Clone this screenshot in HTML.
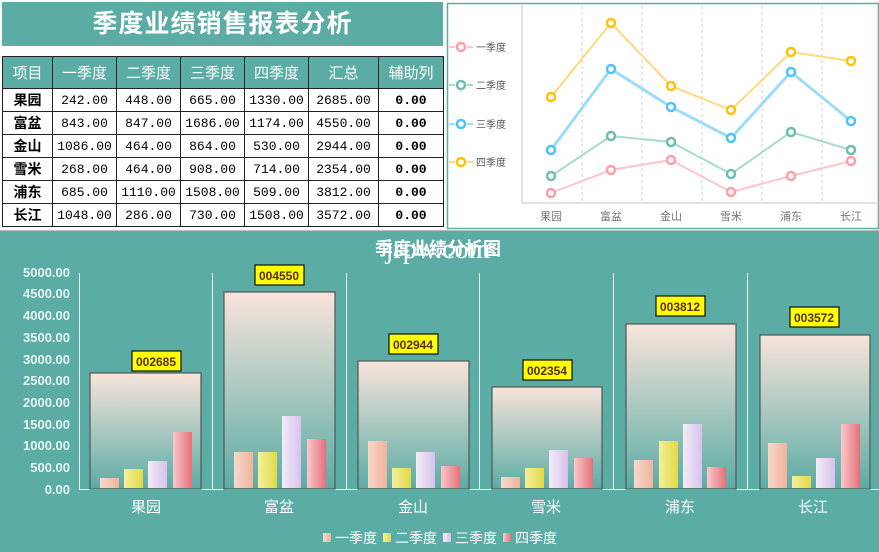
<!DOCTYPE html>
<html><head><meta charset="utf-8"><style>
body{margin:0;width:879px;height:552px;background:#fff;position:relative;overflow:hidden;font-family:"Liberation Sans","Noto Sans CJK SC",sans-serif}
#title{position:absolute;left:2px;top:2px;width:441px;height:44px;background:#5aaca5;color:#fff;font-weight:bold;font-size:25px;text-align:center;line-height:44px;letter-spacing:1px}
table{position:absolute;left:2px;top:56px;border-collapse:collapse;table-layout:fixed}
td{border:1px solid #222;height:22px;padding:0;text-align:center;font-family:"Liberation Mono","Noto Sans CJK SC",monospace;font-size:13px}
tr.h td{background:#5aaca5;color:#fff;height:31px;font-family:"Liberation Sans","Noto Sans CJK SC",sans-serif;font-size:15px}
td.n{font-family:"Liberation Sans","Noto Sans CJK SC",sans-serif;font-weight:bold;font-size:14px}
td.b{font-weight:bold}
svg{position:absolute;left:0;top:0}
</style></head><body>
<div id="title">季度业绩销售报表分析</div>
<table>
<colgroup><col style="width:50px"><col style="width:64px"><col style="width:64px"><col style="width:64px"><col style="width:64px"><col style="width:70px"><col style="width:65px"></colgroup>
<tr class="h"><td>项目</td><td>一季度</td><td>二季度</td><td>三季度</td><td>四季度</td><td>汇总</td><td>辅助列</td></tr>
<tr><td class="n">果园</td><td>242.00</td><td>448.00</td><td>665.00</td><td>1330.00</td><td>2685.00</td><td class="b">0.00</td></tr>
<tr><td class="n">富盆</td><td>843.00</td><td>847.00</td><td>1686.00</td><td>1174.00</td><td>4550.00</td><td class="b">0.00</td></tr>
<tr><td class="n">金山</td><td>1086.00</td><td>464.00</td><td>864.00</td><td>530.00</td><td>2944.00</td><td class="b">0.00</td></tr>
<tr><td class="n">雪米</td><td>268.00</td><td>464.00</td><td>908.00</td><td>714.00</td><td>2354.00</td><td class="b">0.00</td></tr>
<tr><td class="n">浦东</td><td>685.00</td><td>1110.00</td><td>1508.00</td><td>509.00</td><td>3812.00</td><td class="b">0.00</td></tr>
<tr><td class="n">长江</td><td>1048.00</td><td>286.00</td><td>730.00</td><td>1508.00</td><td>3572.00</td><td class="b">0.00</td></tr>
</table>
<svg width="879" height="552" xmlns="http://www.w3.org/2000/svg">
<defs>
<linearGradient id="bg" x1="0" y1="0" x2="0" y2="1"><stop offset="0" stop-color="#f9e4da"/><stop offset="1" stop-color="#5aaca5"/></linearGradient>
<linearGradient id="q1" x1="0" y1="0" x2="1" y2="0"><stop offset="0" stop-color="#f8d8cc"/><stop offset="1" stop-color="#eeb49c"/></linearGradient>
<linearGradient id="q2" x1="0" y1="0" x2="1" y2="0"><stop offset="0" stop-color="#f4f09a"/><stop offset="1" stop-color="#e2d848"/></linearGradient>
<linearGradient id="q3" x1="0" y1="0" x2="1" y2="0"><stop offset="0" stop-color="#f3ebf6"/><stop offset="1" stop-color="#d6c2ee"/></linearGradient>
<linearGradient id="q4" x1="0" y1="0" x2="1" y2="0"><stop offset="0" stop-color="#fac8cc"/><stop offset="1" stop-color="#e4707a"/></linearGradient>
</defs>
<rect x="447.5" y="3.5" width="431" height="225" fill="#fff" stroke="#5aaca5" stroke-width="1.5"/>
<path d="M522 5V203H879" fill="none" stroke="#ccd3da" stroke-width="1.2"/>
<g stroke="#c8ced6" stroke-dasharray="3,3" fill="none"><path d="M582 6V203M642 6V203M702 6V203M762 6V203M822 6V203"/></g>
<g font-size="11" fill="#777" text-anchor="middle"><text x="551" y="220">果园</text><text x="611" y="220">富盆</text><text x="671" y="220">金山</text><text x="731" y="220">雪米</text><text x="791" y="220">浦东</text><text x="851" y="220">长江</text></g>
<g fill="none" stroke-width="2">
<polyline stroke="#ffd97a" points="551,97 611,23 671,86 731,110 791,52 851,61"/>
<polyline stroke="#9ddcf8" stroke-width="3" points="551,150 611,69 671,107 731,138 791,72 851,121"/>
<polyline stroke="#a6dccf" points="551,176 611,136 671,142 731,174 791,132 851,150"/>
<polyline stroke="#ffc4cc" points="551,193 611,170 671,160 731,192 791,176 851,161"/>
</g>
<g fill="#fff" stroke-width="2.5">
<g stroke="#ffc107"><circle cx="551" cy="97" r="4"/><circle cx="611" cy="23" r="4"/><circle cx="671" cy="86" r="4"/><circle cx="731" cy="110" r="4"/><circle cx="791" cy="52" r="4"/><circle cx="851" cy="61" r="4"/><circle cx="461" cy="162" r="4"/></g>
<g stroke="#4fc3f7"><circle cx="551" cy="150" r="4"/><circle cx="611" cy="69" r="4"/><circle cx="671" cy="107" r="4"/><circle cx="731" cy="138" r="4"/><circle cx="791" cy="72" r="4"/><circle cx="851" cy="121" r="4"/><circle cx="461" cy="124" r="4"/></g>
<g stroke="#6cbfae"><circle cx="551" cy="176" r="4"/><circle cx="611" cy="136" r="4"/><circle cx="671" cy="142" r="4"/><circle cx="731" cy="174" r="4"/><circle cx="791" cy="132" r="4"/><circle cx="851" cy="150" r="4"/><circle cx="461" cy="85" r="4"/></g>
<g stroke="#ff9eab"><circle cx="551" cy="193" r="4"/><circle cx="611" cy="170" r="4"/><circle cx="671" cy="160" r="4"/><circle cx="731" cy="192" r="4"/><circle cx="791" cy="176" r="4"/><circle cx="851" cy="161" r="4"/><circle cx="461" cy="47" r="4"/></g>
</g>
<g stroke-width="2" fill="none"><path d="M449 47H455M467 47H473" stroke="#ffc4cc"/><path d="M449 85H455M467 85H473" stroke="#a6dccf"/><path d="M449 124H455M467 124H473" stroke="#9ddcf8"/><path d="M449 162H455M467 162H473" stroke="#ffd97a"/></g>
<g font-size="10" fill="#555"><text x="476" y="51">一季度</text><text x="476" y="89">二季度</text><text x="476" y="128">三季度</text><text x="476" y="166">四季度</text></g>
<rect x="0" y="230" width="879" height="322" fill="#5aaca5"/>
<rect x="0" y="230" width="879" height="1" fill="#bbb"/>
<text x="438" y="255" font-size="18" fill="#fff" text-anchor="middle" font-weight="bold">季度业绩分析图</text>
<text x="438" y="258" font-size="28" fill="#fff" text-anchor="middle" font-family="Liberation Serif,serif">jrpw.com</text>
<g font-size="13" font-weight="bold" fill="#e8f4f2" text-anchor="end">
<text x="70" y="277">5000.00</text><text x="70" y="298">4500.00</text><text x="70" y="320">4000.00</text><text x="70" y="342">3500.00</text><text x="70" y="364">3000.00</text><text x="70" y="385">2500.00</text><text x="70" y="407">2000.00</text><text x="70" y="429">1500.00</text><text x="70" y="450">1000.00</text><text x="70" y="472">500.00</text><text x="70" y="494">0.00</text></g>
<g stroke="#e8f4f2" stroke-width="1" fill="none"><path d="M79.5 273V489.5H879M212.5 273V489M346.5 273V489M479.5 273V489M613.5 273V489M747.5 273V489"/></g>
<g stroke="#555" stroke-width="1.2" fill="url(#bg)">
<rect x="90" y="373" width="111" height="116"/>
<rect x="224" y="292" width="111" height="197"/>
<rect x="358" y="361" width="111" height="128"/>
<rect x="492" y="387" width="110" height="102"/>
<rect x="626" y="324" width="110" height="165"/>
<rect x="760" y="335" width="110" height="154"/>
</g>
<g fill="url(#q1)"><rect x="100" y="478" width="19" height="10"/><rect x="234" y="452" width="19" height="36"/><rect x="368" y="441" width="19" height="47"/><rect x="501" y="477" width="19" height="11"/><rect x="634" y="460" width="19" height="28"/><rect x="768" y="443" width="19" height="45"/></g>
<g fill="url(#q2)"><rect x="124" y="469" width="19" height="19"/><rect x="258" y="452" width="19" height="36"/><rect x="392" y="468" width="19" height="20"/><rect x="525" y="468" width="19" height="20"/><rect x="659" y="441" width="19" height="47"/><rect x="792" y="476" width="19" height="12"/></g>
<g fill="url(#q3)"><rect x="148" y="461" width="19" height="27"/><rect x="282" y="416" width="19" height="72"/><rect x="416" y="452" width="19" height="36"/><rect x="549" y="450" width="19" height="38"/><rect x="683" y="424" width="19" height="64"/><rect x="816" y="458" width="19" height="30"/></g>
<g fill="url(#q4)"><rect x="173" y="432" width="19" height="56"/><rect x="307" y="439" width="19" height="49"/><rect x="441" y="466" width="19" height="22"/><rect x="574" y="458" width="19" height="30"/><rect x="707" y="467" width="19" height="21"/><rect x="841" y="424" width="19" height="64"/></g>
<g fill="#ffff00" stroke="#111" stroke-width="1.2">
<rect x="132" y="351" width="49" height="20"/><rect x="255" y="265" width="49" height="20"/><rect x="389" y="334" width="49" height="20"/><rect x="523" y="360" width="49" height="20"/><rect x="656" y="296" width="49" height="20"/><rect x="790" y="307" width="49" height="20"/></g>
<g font-size="12" font-weight="bold" fill="#5a2a0a" text-anchor="middle">
<text x="156" y="366">002685</text><text x="279" y="280">004550</text><text x="413" y="349">002944</text><text x="547" y="375">002354</text><text x="680" y="311">003812</text><text x="814" y="322">003572</text></g>
<g font-size="15" fill="#fff" text-anchor="middle"><text x="146" y="512">果园</text><text x="279" y="512">富盆</text><text x="413" y="512">金山</text><text x="546" y="512">雪米</text><text x="680" y="512">浦东</text><text x="813" y="512">长江</text></g>
<rect x="323" y="533" width="8" height="9" fill="url(#q1)"/><rect x="383" y="533" width="8" height="9" fill="url(#q2)"/><rect x="443" y="533" width="8" height="9" fill="url(#q3)"/><rect x="503" y="533" width="8" height="9" fill="url(#q4)"/>
<g font-size="14" fill="#fff"><text x="335" y="543">一季度</text><text x="395" y="543">二季度</text><text x="455" y="543">三季度</text><text x="515" y="543">四季度</text></g>
</svg>
</body></html>
